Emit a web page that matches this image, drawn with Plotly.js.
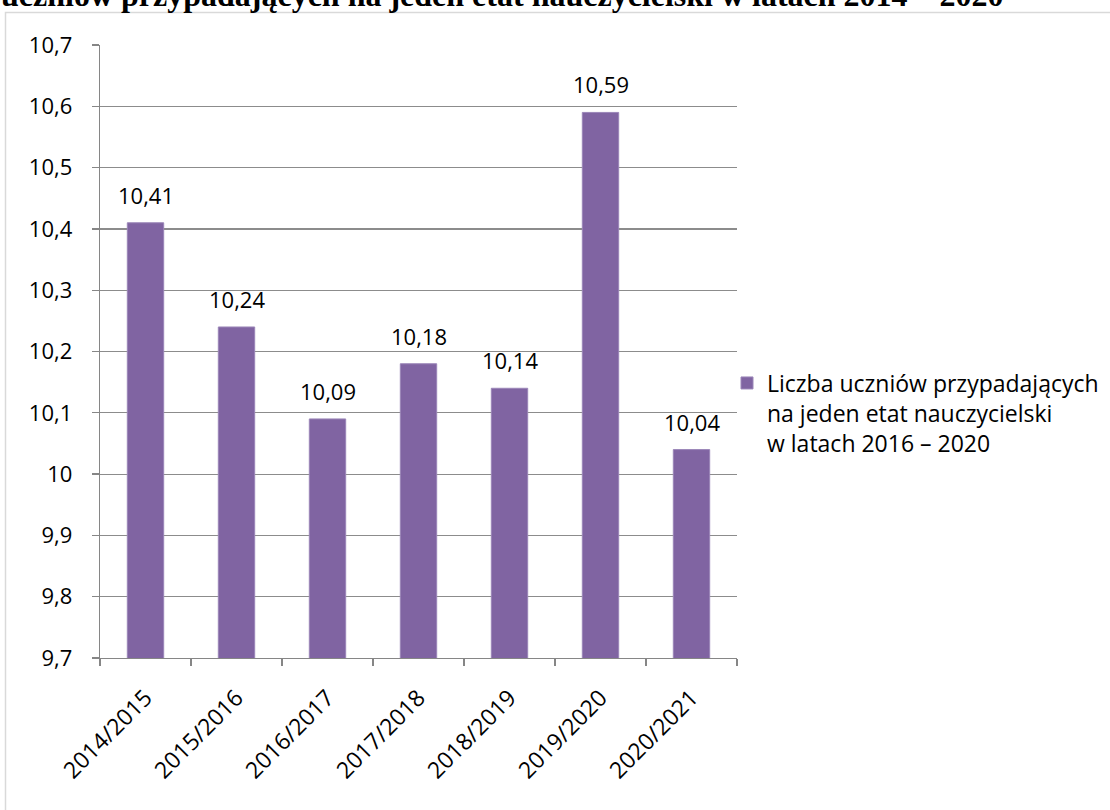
<!DOCTYPE html>
<html>
<head>
<meta charset="utf-8">
<script src="https://cdn.plot.ly/plotly-3.0.1.min.js"></script>
<style>html,body{margin:0;padding:0;background:#fff;}#chart{width:1110px;height:810px;}</style>
</head>
<body>
<div id="chart"></div>
<script>
const categories = ['2014/2015','2015/2016','2016/2017','2017/2018','2018/2019','2019/2020','2020/2021'];
const values = [10.41, 10.24, 10.09, 10.18, 10.14, 10.59, 10.04];
const yTickVals = [9.7, 9.8, 9.9, 10.0, 10.1, 10.2, 10.3, 10.4, 10.5, 10.6, 10.7];
const yTickText = ['9,7','9,8','9,9','10','10,1','10,2','10,3','10,4','10,5','10,6','10,7'];
const seriesName = 'Liczba uczniów przypadających<br>na jeden etat nauczycielski<br>w latach 2016 – 2020';
const titleText = 'uczniów przypadających na jeden etat nauczycielski w latach 2014 – 2020';

const FONT = '"Open Sans", sans-serif';
const PL = 100, PR = 737, PT = 45, PB = 658;
const pw = PR - PL, ph = PB - PT;
const px = v => (v - PL) / pw;
const py = v => (PB - v) / ph;

const trace = {
  type: 'bar',
  x: categories,
  y: values,
  name: seriesName,
  marker: {color: '#8064A2', line: {color: '#9b86b8', width: 1}},
  showlegend: true,
  hoverinfo: 'x+y'
};

const labelAnn = categories.map((c, i) => ({
  x: c, y: values[i], xref: 'x', yref: 'y',
  text: values[i].toFixed(2).replace('.', ','),
  showarrow: false, yanchor: 'bottom', yshift: 11,
  font: {family: FONT, size: 22, color: '#000'}
}));

const layout = {
  width: 1110, height: 810,
  margin: {l: PL, r: 1110 - PR, t: PT, b: 810 - PB, pad: 0, autoexpand: false},
  paper_bgcolor: 'rgba(0,0,0,0)',
  plot_bgcolor: 'rgba(0,0,0,0)',
  bargap: 0.6,
  font: {family: FONT, size: 22, color: '#000'},
  xaxis: {
    type: 'category',
    showline: true, linecolor: '#868686', linewidth: 1.3,
    ticks: 'outside', ticklen: 7, tickcolor: '#868686', tickwidth: 1.3,
    tickson: 'boundaries',
    tickangle: -45,
    ticklabelstandoff: 16,
    tickfont: {family: FONT, size: 23, color: '#000'},
    showgrid: false, zeroline: false,
    automargin: false
  },
  yaxis: {
    range: [9.7, 10.7],
    tickvals: yTickVals, ticktext: yTickText,
    showline: true, linecolor: '#868686', linewidth: 1.3,
    ticks: 'outside', ticklen: 7, tickcolor: '#868686', tickwidth: 1.3,
    ticklabelstandoff: 15,
    tickfont: {family: FONT, size: 22, color: '#000'},
    showgrid: true, gridcolor: '#8c8c8c', gridwidth: 1.2,
    zeroline: false,
    automargin: false
  },
  legend: {
    x: px(727), y: py(413), xanchor: 'left', yanchor: 'middle',
    font: {family: FONT, size: 23, color: '#000'},
    valign: 'top',
    bgcolor: 'rgba(0,0,0,0)',
    itemclick: false
  },
  annotations: labelAnn.concat([{
    xref: 'paper', yref: 'paper',
    x: px(-1), y: py(-5), xanchor: 'left', yanchor: 'middle',
    text: '<b>' + titleText + '</b>', showarrow: false,
    font: {family: 'Liberation Serif, serif', size: 32, color: '#000'}
  }]),
  shapes: [{
    type: 'rect', xref: 'paper', yref: 'paper', layer: 'below',
    x0: px(5.5), x1: px(1120), y0: py(820), y1: py(12.5),
    line: {color: '#d9d9d9', width: 1.5}, fillcolor: 'rgba(0,0,0,0)'
  }]
};

Plotly.newPlot('chart', [trace], layout, {displayModeBar: false, staticPlot: true});
</script>
</body>
</html>
